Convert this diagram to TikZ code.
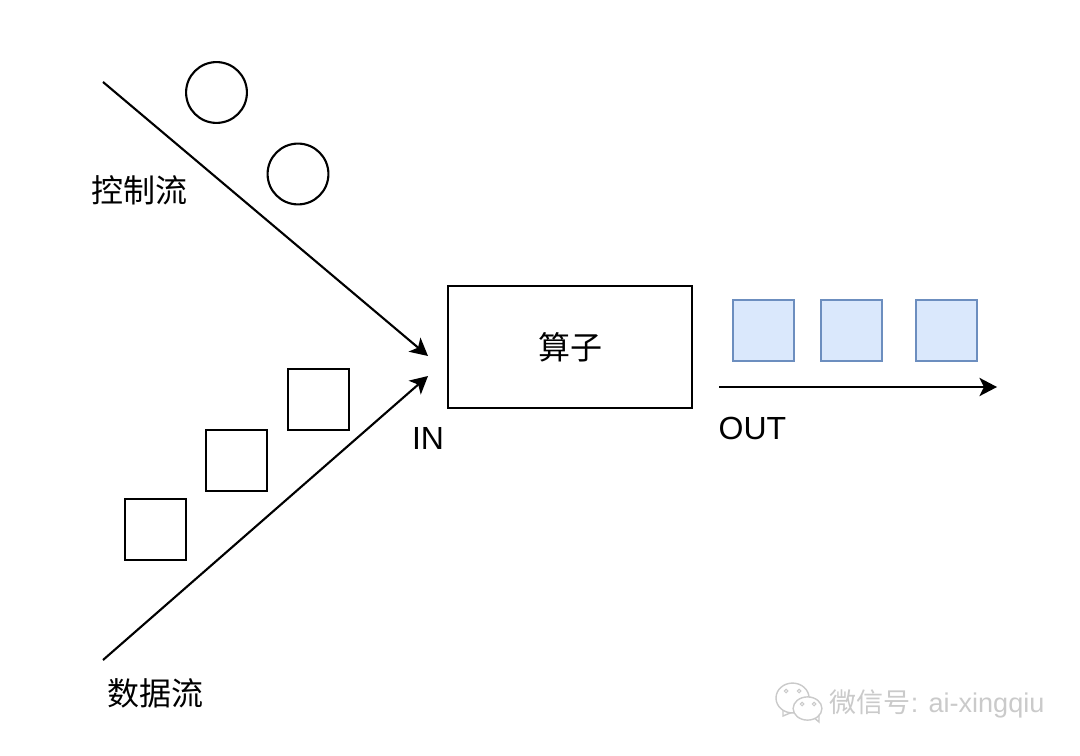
\documentclass[tikz,border=0pt]{standalone}
\usepackage{fontspec}
\setmainfont{Liberation Sans}
\newfontfamily\cjk{Noto Sans CJK SC}
\usetikzlibrary{arrows.meta,shapes.geometric}
\definecolor{blueline}{HTML}{6C8EBF}
\definecolor{bluefill}{HTML}{DAE8FC}
\definecolor{markgray}{HTML}{CACACA}
\tikzset{
  line/.style={line width=0.6pt,black},
  flow/.style={line,-{Stealth[length=5pt,width=5.2pt,inset=1.3pt]}},
  ball/.style={draw,line,circle,minimum size=17.3pt,inner sep=0pt},
  packet/.style={draw,line,minimum size=17.3pt,inner sep=0pt},
  outpacket/.style={packet,draw=blueline,fill=bluefill},
  label/.style={inner sep=0pt,font=\fontsize{9.1pt}{11pt}\selectfont},
  bubble/.style={draw=markgray,fill=white,ellipse,line width=0.4pt,inner sep=0pt},
  eye/.style={draw=markgray,circle,line width=0.3pt,minimum size=1pt,inner sep=0pt}
}
\begin{document}
\begin{tikzpicture}[x=0.01cm,y=-0.01cm]
\useasboundingbox (0,0) rectangle (1080,755);
\node[ball] (ball1) at (216.5,92.5) {};
\node[ball] (ball2) at (298,174) {};
\node[packet] (in1) at (155.5,529.5) {};
\node[packet] (in2) at (236.5,460.5) {};
\node[packet] (in3) at (318.5,399.5) {};
\node[draw,line,minimum width=69.4pt,minimum height=34.7pt,inner sep=0pt,label] (op) at (570,347) {\cjk 算子};
\node[outpacket] (out1) at (763.5,330.5) {};
\node[outpacket] (out2) at (851.5,330.5) {};
\node[outpacket] (out3) at (946.5,330.5) {};

\coordinate (ctrlstart) at (103,82);
\coordinate (ctrlend) at (428,356);
\coordinate (datastart) at (103,660);
\coordinate (dataend) at (428,376);
\coordinate (outstart) at (719,387);
\coordinate (outend) at (997,387);
\path[draw,flow] (ctrlstart) -- (ctrlend);
\path[draw,flow] (datastart) -- (dataend);
\path[draw,flow] (outstart) -- (outend);

\node[label] (ctrl) at (139.5,190) {\cjk 控制流};
\node[label] (data) at (155.5,693) {\cjk 数据流};
\node[label] (intext) at (428,438) {IN};
\node[label] (outtext) at (752.5,428) {OUT};

% watermark
\path[draw=markgray,fill=white,line width=0.4pt] (783,708) -- (783,716) -- (795,711) -- cycle;
\node[bubble,minimum width=9.4pt,minimum height=8.5pt] (wechat1) at (792.5,698) {};
\path[draw=markgray,fill=white,line width=0.4pt] (812,716) -- (819,722) -- (819,712) -- cycle;
\node[bubble,minimum width=8.2pt,minimum height=6.6pt] (wechat2) at (807.5,708.5) {};
\node[eye] (eye1) at (786,691) {};
\node[eye] (eye2) at (799,691) {};
\node[eye] (eye3) at (802,704) {};
\node[eye] (eye4) at (814,704) {};
\node[label,text=markgray,font=\fontsize{7.7pt}{9pt}\selectfont,anchor=west] (mark) at (829,704) {{\cjk 微信号}: ai-xingqiu};
\end{tikzpicture}
\end{document}
